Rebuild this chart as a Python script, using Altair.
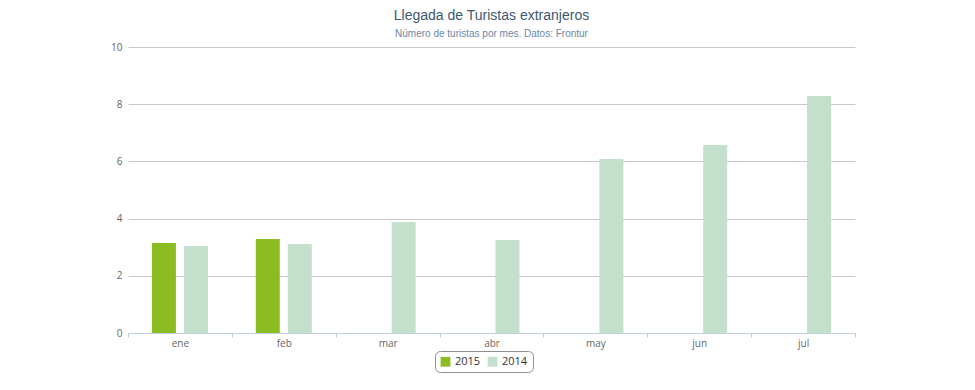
import altair as alt
import pandas as pd

months = ["ene", "feb", "mar", "abr", "may", "jun", "jul"]
vals_2015 = [3.15, 3.29]
vals_2014 = [3.04, 3.11, 3.88, 3.25, 6.08, 6.57, 8.29]
years = ["2015", "2014"]
colors = ["#8BBC21", "#C2E0CB"]

rows = []
for m, v in zip(months, vals_2015):
    rows.append({"mes": m, "anio": "2015", "valor": v})
for m, v in zip(months, vals_2014):
    rows.append({"mes": m, "anio": "2014", "valor": v})
df = pd.DataFrame(rows)

chart = alt.Chart(df).mark_bar().encode(
    x=alt.X("mes:N", sort=months,
            scale=alt.Scale(paddingInner=0, paddingOuter=0),
            axis=alt.Axis(title=None, labelAngle=0, tickBand="extent", ticks=True,
                          tickColor="#C0D0E0", tickSize=4, domainColor="#C0D0E0",
                          labelColor="#666666", labelFontSize=10, labelPadding=1,
                          grid=False, labelFont="Open Sans")),
    xOffset=alt.XOffset("anio:N", sort=years,
                        scale=alt.Scale(domain=years, paddingInner=0.25, paddingOuter=0.748)),
    y=alt.Y("valor:Q", scale=alt.Scale(domain=[0, 10]),
            axis=alt.Axis(title=None, values=[0, 2, 4, 6, 8, 10], ticks=False, domain=False,
                          gridColor="#C8C8C8", labelColor="#666666", labelFontSize=10,
                          labelPadding=6, labelFont="Open Sans")),
    color=alt.Color("anio:N", sort=years,
                    scale=alt.Scale(domain=years, range=colors),
                    legend=alt.Legend(title=None, orient="none", direction="horizontal",
                                      legendX=307, legendY=304, symbolType="square",
                                      symbolSize=95, symbolStrokeWidth=0,
                                      labelFontSize=11, labelColor="#333333",
                                      labelFont="Open Sans", labelOffset=4,
                                      strokeColor="#909090", cornerRadius=5, padding=5,
                                      columnPadding=6)),
).properties(
    width=727,
    height=286,
    title=alt.TitleParams(text="Llegada de Turistas extranjeros",
                          subtitle="Número de turistas por mes. Datos: Frontur",
                          fontSize=14, color="#3E576F", fontWeight="normal",
                          subtitleFontSize=10, subtitleColor="#6D869F",
                          font="Liberation Sans", subtitleFont="Liberation Sans",
                          anchor="middle", offset=3, subtitlePadding=6),
    autosize=alt.AutoSizeParams(type="none"),
    padding={"left": 120, "top": 39, "right": 112, "bottom": 43},
).configure_view(stroke=None)

chart.save("out.html", embed_options={"renderer": "svg", "actions": False})
